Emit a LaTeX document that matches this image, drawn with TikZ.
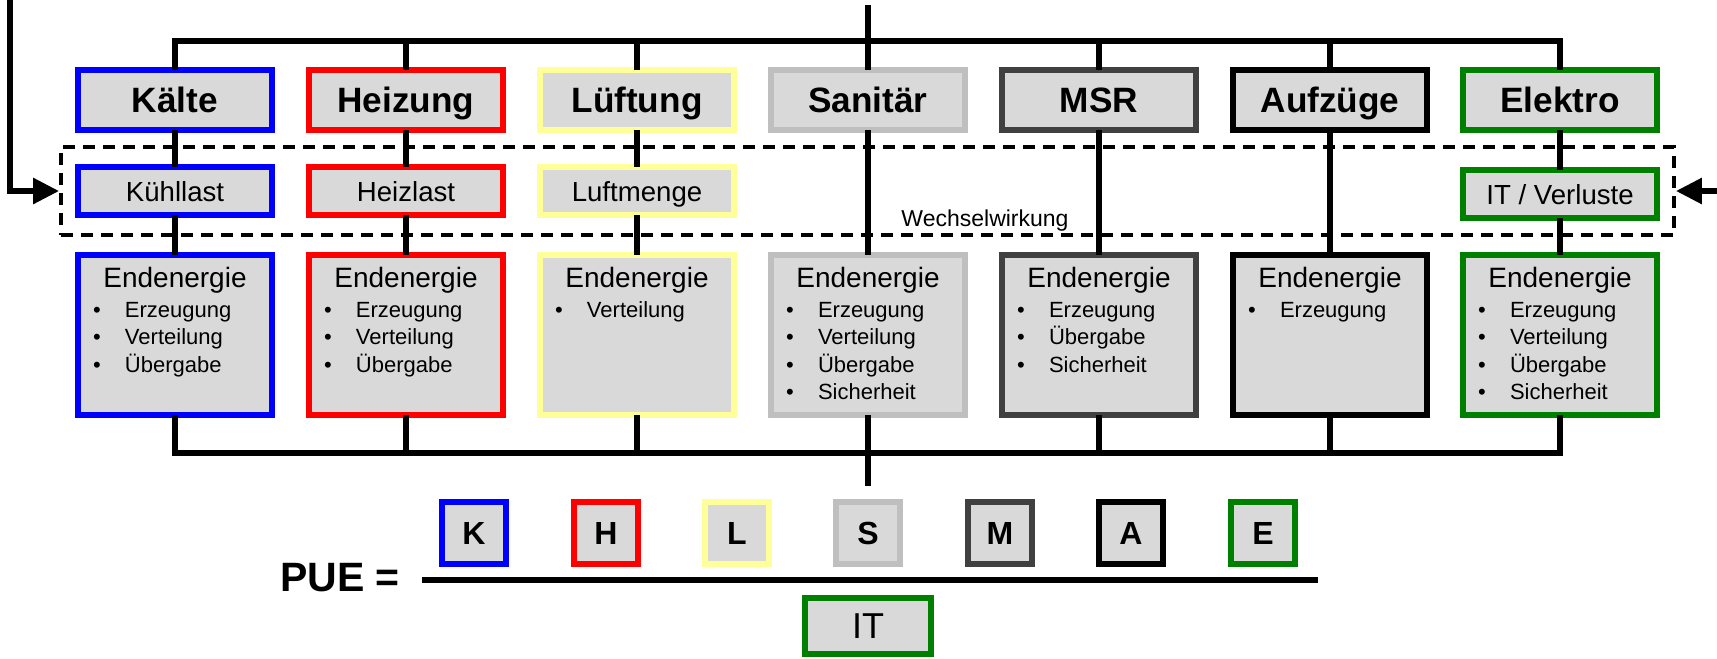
\documentclass[tikz,border=0pt]{standalone}
\usepackage{fontspec}
\setmainfont{Liberation Sans}
\usetikzlibrary{arrows.meta}

\definecolor{boxgray}{HTML}{D9D9D9}
\definecolor{kblue}{HTML}{0000FF}
\definecolor{hred}{HTML}{FF0000}
\definecolor{lyellow}{HTML}{FFFF99}
\definecolor{sgray}{HTML}{BFBFBF}
\definecolor{mgray}{HTML}{404040}
\definecolor{ablack}{HTML}{000000}
\definecolor{egreen}{HTML}{008000}

\newcommand{\pkt}[1]{\par\makebox[23.6pt][l]{\hspace{7.6pt}\textbullet}#1}

\begin{document}
\begin{tikzpicture}[x=0.5pt, y=-0.5pt, every node/.style={inner sep=0pt},
    head/.style={draw, fill=boxgray, line width=2.9pt, minimum width=97.2pt, minimum height=29.7pt, text height=12.6pt, text depth=0pt, font=\fontsize{17.6}{20}\selectfont\bfseries},
    load/.style={draw, fill=boxgray, line width=2.9pt, minimum width=97.2pt, minimum height=23.7pt, text height=10pt, text depth=0pt, font=\fontsize{13.8}{16}\selectfont},
    endbox/.style={draw, fill=boxgray, line width=2.9pt, text width=97.2pt, text height=16.1pt, text depth=63.6pt, font=\fontsize{11}{13.7}\selectfont},
    letter/.style={draw, fill=boxgray, line width=2.9pt, minimum width=32pt, minimum height=31.2pt, text height=11.5pt, text depth=0pt, font=\fontsize{16}{19}\selectfont\bfseries},
    bus/.style={line width=2.9pt, line cap=rect}]
    \useasboundingbox (0,0) rectangle (1717,658);

    % Gewerke
    \node[head, draw=kblue] (kaelte) at (175,100) {Kälte};
    \node[head, draw=hred] (heizung) at (406,100) {Heizung};
    \node[head, draw=lyellow] (lueftung) at (637,100) {Lüftung};
    \node[head, draw=sgray] (sanitaer) at (868,100) {Sanitär};
    \node[head, draw=mgray] (msr) at (1099,100) {MSR};
    \node[head, draw=ablack] (aufzuege) at (1330,100) {Aufzüge};
    \node[head, draw=egreen] (elektro) at (1560,100) {Elektro};

    % Lasten
    \node[load, draw=kblue] (kuehllast) at (175,191) {Kühllast};
    \node[load, draw=hred] (heizlast) at (406,191) {Heizlast};
    \node[load, draw=lyellow] (luftmenge) at (637,191) {Luftmenge};
    \node[load, draw=egreen] (itverl) at (1560,194) {IT / Verluste};

    % Wechselwirkung
    \node[draw, dashed, dash pattern=on 6pt off 4pt, line width=1.9pt, minimum width=806.5pt, minimum height=44pt] (ww) at (867.5,191) {};
    \node[anchor=base, font=\fontsize{11.5}{13}\selectfont] (wwtext) at (985,226) {Wechselwirkung};

    % Endenergie
    \node[endbox, draw=kblue] (endk) at (175,335) {{\centering\fontsize{14}{16}\selectfont Endenergie\par}\vspace{1.3pt}\pkt{Erzeugung}\pkt{Verteilung}\pkt{Übergabe}};
    \node[endbox, draw=hred] (endh) at (406,335) {{\centering\fontsize{14}{16}\selectfont Endenergie\par}\vspace{1.3pt}\pkt{Erzeugung}\pkt{Verteilung}\pkt{Übergabe}};
    \node[endbox, draw=lyellow] (endl) at (637,335) {{\centering\fontsize{14}{16}\selectfont Endenergie\par}\vspace{1.3pt}\pkt{Verteilung}};
    \node[endbox, draw=sgray] (ends) at (868,335) {{\centering\fontsize{14}{16}\selectfont Endenergie\par}\vspace{1.3pt}\pkt{Erzeugung}\pkt{Verteilung}\pkt{Übergabe}\pkt{Sicherheit}};
    \node[endbox, draw=mgray] (endm) at (1099,335) {{\centering\fontsize{14}{16}\selectfont Endenergie\par}\vspace{1.3pt}\pkt{Erzeugung}\pkt{Übergabe}\pkt{Sicherheit}};
    \node[endbox, draw=ablack] (enda) at (1330,335) {{\centering\fontsize{14}{16}\selectfont Endenergie\par}\vspace{1.3pt}\pkt{Erzeugung}};
    \node[endbox, draw=egreen] (ende) at (1560,335) {{\centering\fontsize{14}{16}\selectfont Endenergie\par}\vspace{1.3pt}\pkt{Erzeugung}\pkt{Verteilung}\pkt{Übergabe}\pkt{Sicherheit}};

    % Sammelschienen
    \coordinate (top) at (868,8);
    \coordinate (tk) at (175,41);
    \coordinate (ts) at (868,41);
    \coordinate (te) at (1560,41);
    \coordinate (bk) at (175,453);
    \coordinate (bs) at (868,453);
    \coordinate (be) at (1560,453);
    \coordinate (bot) at (868,483);
    \draw[bus] (tk) -- (te);
    \draw[bus] (bk) -- (be);
    \draw[bus] (top) -- (ts);
    \draw[bus] (bs) -- (bot);

    % Stränge
    \draw[bus] (tk) -- (kaelte) -- (kuehllast) -- (endk) -- (bk);
    \draw[bus] (406,41) -- (heizung) -- (heizlast) -- (endh) -- (406,453);
    \draw[bus] (637,41) -- (lueftung) -- (luftmenge) -- (endl) -- (637,453);
    \draw[bus] (ts) -- (sanitaer) -- (ends) -- (bs);
    \draw[bus] (1099,41) -- (msr) -- (endm) -- (1099,453);
    \draw[bus] (1330,41) -- (aufzuege) -- (enda) -- (1330,453);
    \draw[bus] (te) -- (elektro) -- (itverl) -- (ende) -- (be);

    % Rückkopplung
    \coordinate (fbl) at (10,0);
    \coordinate (fbr) at (1717,191);
    \draw[bus, -{Triangle[length=13pt,width=12.5pt]}] (fbl) |- (ww.west);
    \draw[bus, -{Triangle[length=13pt,width=12.5pt]}] (fbr) -- (ww.east);

    % PUE
    \node[font=\fontsize{20.5}{24}\selectfont\bfseries, text height=14.7pt, text depth=0pt] (pue) at (340,577) {PUE =};
    \node[letter, draw=kblue] (qk) at (474,533) {K};
    \node[letter, draw=hred] (qh) at (606,533) {H};
    \node[letter, draw=lyellow] (ql) at (737,533) {L};
    \node[letter, draw=sgray] (qs) at (868,533) {S};
    \node[letter, draw=mgray] (qm) at (1000,533) {M};
    \node[letter, draw=ablack] (qa) at (1131,533) {A};
    \node[letter, draw=egreen] (qe) at (1263,533) {E};
    \coordinate (fl) at (422,580);
    \coordinate (fr) at (1318,580);
    \draw[line width=2.7pt] (fl) -- (fr);
    \node[draw=egreen, fill=boxgray, line width=2.9pt, minimum width=63.2pt, minimum height=28.2pt, text height=12.9pt, text depth=0pt, font=\fontsize{18}{21}\selectfont] (it) at (868,626) {IT};
\end{tikzpicture}
\end{document}
